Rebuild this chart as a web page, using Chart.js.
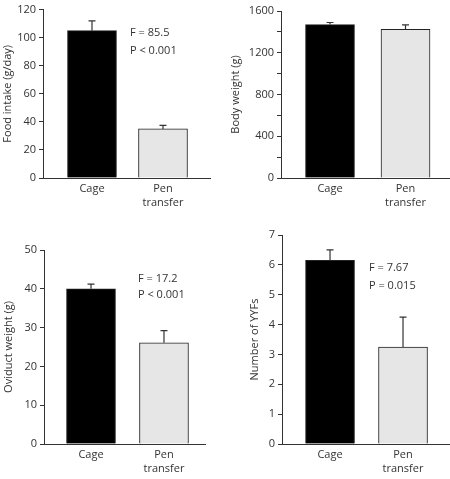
<!DOCTYPE html>
<html>
<head>
<meta charset="utf-8">
<script src="https://cdn.jsdelivr.net/npm/chart.js@4.4.1/dist/chart.umd.min.js"></script>
<style>
body { margin: 0; background: #fff; width: 450px; height: 479px; overflow: hidden; position: relative; }
canvas { position: absolute; }
</style>
</head>
<body>
<canvas id="foodChart" width="225" height="240" style="left:0;top:0"></canvas>
<canvas id="bodyChart" width="225" height="240" style="left:225px;top:0"></canvas>
<canvas id="oviductChart" width="225" height="239" style="left:0;top:240px"></canvas>
<canvas id="yyfChart" width="225" height="254" style="left:225px;top:225px"></canvas>
<script>
// categories
groups = ['Cage', ['Pen', 'transfer']];

// food intake (g/day)
food_mean = [105, 35];
food_err = [7, 2.5];
food_stats = ['F = 85.5', 'P < 0.001'];

// body weight (g)
body_mean = [1470, 1425];
body_err = [20, 42];
body_stats = [];

// oviduct weight (g)
oviduct_mean = [40, 26.1];
oviduct_err = [1.2, 3.1];
oviduct_stats = ['F = 17.2', 'P < 0.001'];

// number of YYFs
yyf_mean = [6.15, 3.25];
yyf_err = [0.35, 1.0];
yyf_stats = ['F = 7.67', 'P = 0.015'];

font_family = "'Open Sans', 'Noto Sans', sans-serif";
ink = '#333';

// upper error whisker with a small cap
const errorBars = {
    id: 'errorBars',
    afterDatasetsDraw(chart){
        const ctx = chart.ctx;
        const ds = chart.data.datasets[0];
        const meta = chart.getDatasetMeta(0);
        const y = chart.scales.y;
        ctx.save();
        ctx.strokeStyle = ink;
        ctx.lineWidth = 1.2;
        meta.data.forEach(function(bar, i){
            const top = y.getPixelForValue(ds.data[i].y + ds.errors[i]);
            ctx.beginPath();
            ctx.moveTo(bar.x, bar.y);
            ctx.lineTo(bar.x, top);
            ctx.moveTo(bar.x - 3.5, top);
            ctx.lineTo(bar.x + 3.5, top);
            ctx.stroke();
        });
        ctx.restore();
    }
};

// F / P text
const statsText = {
    id: 'statsText',
    afterDraw(chart, args, opts){
        if(!opts.lines || !opts.lines.length) return;
        const ctx = chart.ctx;
        ctx.save();
        ctx.fillStyle = ink;
        ctx.font = '11px ' + font_family;
        ctx.textAlign = 'left';
        ctx.textBaseline = 'middle';
        for (var i = 0; i < opts.lines.length; i++){
            ctx.fillText(opts.lines[i], opts.x, opts.y + i * opts.gap);
        }
        ctx.restore();
    }
};

function PlotPanel(id, mean, err, stats, p){
    var ctx = document.getElementById(id).getContext('2d');
    var W = ctx.canvas.width, H = ctx.canvas.height;
    new Chart(ctx, {
        type: 'bar',
        data: {
            datasets: [{
                data: mean.map(function(v, i){ return {x: i, y: v}; }),
                errors: err,
                backgroundColor: ['#000000', '#e6e6e6'],
                borderColor: '#222',
                borderWidth: 1,
                barThickness: 49
            }]
        },
        plugins: [errorBars, statsText],
        options: {
            responsive: false,
            animation: false,
            devicePixelRatio: 1,
            layout: {
                autoPadding: false,
                padding: {top: p.top, right: W - p.right, left: 0, bottom: 0}
            },
            plugins: {
                legend: {display: false},
                tooltip: {enabled: false},
                statsText: {lines: stats, x: p.sx, y: p.sy, gap: p.gap}
            },
            scales: {
                x: {
                    type: 'linear',
                    offset: false,
                    bounds: 'data',
                    min: p.xmin,
                    max: p.xmax,
                    afterFit: function(s){ s.height = H - p.bottom; },
                    afterBuildTicks: function(s){
                        s.ticks = groups.map(function(g, i){ return {value: i}; });
                    },
                    border: {color: ink, width: 1},
                    grid: {display: false, drawTicks: false, offset: false},
                    ticks: {
                        autoSkip: false,
                        maxRotation: 0,
                        padding: 4,
                        color: ink,
                        font: {family: font_family, size: 11, lineHeight: 1.27},
                        callback: function(v){ return groups[v]; }
                    }
                },
                y: {
                    min: 0,
                    max: p.ymax,
                    afterFit: function(s){ s.width = p.axisX; },
                    border: {color: ink, width: 1},
                    grid: {drawOnChartArea: false, tickLength: 4, color: ink},
                    ticks: {
                        stepSize: p.step,
                        padding: 3,
                        color: ink,
                        font: {family: font_family, size: 11},
                        callback: function(v){ return (v % p.every === 0) ? v : ''; }
                    },
                    title: {
                        display: true,
                        text: p.title,
                        color: ink,
                        font: {family: font_family, size: 11},
                        padding: {top: p.titlePad, bottom: 0}
                    }
                }
            }
        }
    });
}

PlotPanel('foodChart', food_mean, food_err, food_stats, {
    axisX: 43, top: 6, right: 210, bottom: 178, xmin: -0.69, xmax: 1.662,
    ymax: 120, step: 20, every: 20, title: 'Food intake (g/day)', titlePad: 1.4,
    sx: 130, sy: 33, gap: 18
});
PlotPanel('bodyChart', body_mean, body_err, body_stats, {
    axisX: 56, top: 11, right: 224, bottom: 178, xmin: -0.649, xmax: 1.576,
    ymax: 1600, step: 200, every: 400, title: 'Body weight (g)', titlePad: 4.4,
    sx: 0, sy: 0, gap: 0
});
PlotPanel('oviductChart', oviduct_mean, oviduct_err, oviduct_stats, {
    axisX: 44, top: 10, right: 205, bottom: 204, xmin: -0.644, xmax: 1.562,
    ymax: 50, step: 10, every: 10, title: 'Oviduct weight (g)', titlePad: 2.4,
    sx: 138, sy: 39, gap: 16
});
PlotPanel('yyfChart', yyf_mean, yyf_err, yyf_stats, {
    axisX: 57, top: 10, right: 224, bottom: 219, xmin: -0.658, xmax: 1.63,
    ymax: 7, step: 1, every: 1, title: 'Number of YYFs', titlePad: 23.4,
    sx: 144, sy: 43, gap: 18
});
</script>
</body>
</html>
